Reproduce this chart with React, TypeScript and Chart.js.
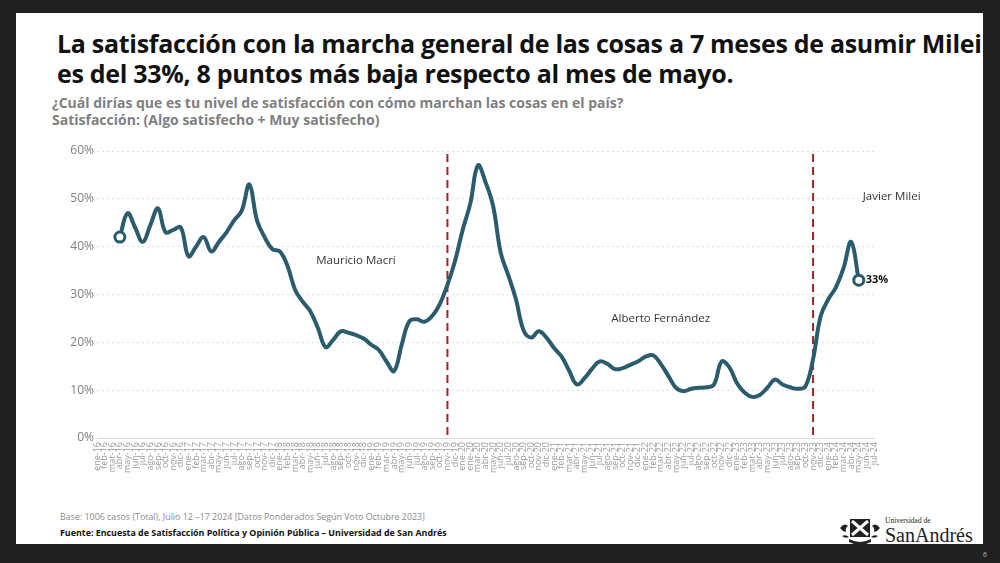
import { useEffect, useRef } from 'react';
import Chart from 'chart.js/auto';

// x axis categories, as printed under the chart (the source repeats "ene-20")
const months = [
  'ene-16', 'feb-16', 'mar-16', 'abr-16', 'may-16', 'jun-16', 'jul-16', 'ago-16', 'sep-16', 'oct-16', 'nov-16', 'dic-16',
  'ene-17', 'feb-17', 'mar-17', 'abr-17', 'may-17', 'jun-17', 'jul-17', 'ago-17', 'sep-17', 'oct-17', 'nov-17', 'dic-17',
  'ene-18', 'feb-18', 'mar-18', 'abr-18', 'may-18', 'jun-18', 'jul-18', 'ago-18', 'sep-18', 'oct-18', 'nov-18', 'dic-18',
  'ene-19', 'feb-19', 'mar-19', 'abr-19', 'may-19', 'jun-19', 'jul-19', 'ago-19', 'sep-19', 'oct-19', 'nov-19', 'dic-19',
  'ene-20', 'ene-20', 'mar-20', 'abr-20', 'may-20', 'jun-20', 'jul-20', 'ago-20', 'sep-20', 'oct-20', 'nov-20', 'dic-20',
  'ene-21', 'feb-21', 'mar-21', 'abr-21', 'may-21', 'jun-21', 'jul-21', 'ago-21', 'sep-21', 'oct-21', 'nov-21', 'dic-21',
  'ene-22', 'feb-22', 'mar-22', 'abr-22', 'may-22', 'jun-22', 'jul-22', 'ago-22', 'sep-22', 'oct-22', 'nov-22', 'dic-22',
  'ene-23', 'feb-23', 'mar-23', 'abr-23', 'may-23', 'jun-23', 'jul-23', 'ago-23', 'sep-23', 'oct-23', 'nov-23', 'dic-23',
  'ene-24', 'feb-24', 'mar-24', 'abr-24', 'may-24', 'jun-24', 'jul-24',
];

// Satisfacción (%), one value per category above
const satisfaction = [
  null, null, null, 42, 47, 44, 41, 44.5, 48, 43, 43.5, 44,
  38, 40, 42, 39, 41, 43, 45.5, 47.5, 53, 45.5, 42, 39.5,
  39, 36, 31, 28.5, 26.5, 23, 19, 20.5, 22.3, 22, 21.5, 20.8,
  19.5, 18.4, 16, 14, 19.5, 24.4, 24.8, 24.3, 25.5, 28, 32, 37,
  43.5, 49, 57, 53.5, 48.5, 38.7, 34, 29, 22.5, 21, 22.3, 21,
  18.8, 17, 14, 11.2, 12.5, 14.5, 16, 15.5, 14.4, 14.6, 15.3, 16,
  17, 17.3, 15.5, 13, 10.5, 9.8, 10.3, 10.5, 10.6, 11.2, 16, 14.8,
  11.5, 9.5, 8.6, 9, 10.5, 12.2, 11.2, 10.6, 10.3, 10.8, 16.5, 25.5,
  29, 31.5, 35.5, 41, 33, null, null,
];

const yTicks = [0, 10, 20, 30, 40, 50, 60];

// change of government (dashed lines) and the presidents' names
const dividers = ['nov-19', 'nov-23'];
const presidents = ['Mauricio Macri', 'Alberto Fernández', 'Javier Milei'];
const presidentAt = ['nov-18', 'mar-22', 'may-24'];
const presidentLevel = [37, 25, 50.5];

const LINE = '#2a5c6d';
const FONT = '"Open Sans", "Noto Sans", sans-serif';

const firstIdx = satisfaction.findIndex((v) => v !== null);
const lastIdx = satisfaction.length - 1 - [...satisfaction].reverse().findIndex((v) => v !== null);

const overlays = {
  id: 'overlays',
  beforeDatasetsDraw(chart: any) {
    const { ctx, chartArea, scales } = chart;
    ctx.save();
    ctx.strokeStyle = '#a3232a';
    ctx.lineWidth = 2;
    ctx.setLineDash([8, 5]);
    dividers.forEach((m) => {
      const x = scales.x.getPixelForValue(months.indexOf(m));
      ctx.beginPath();
      ctx.moveTo(x, chartArea.top + 3);
      ctx.lineTo(x, chartArea.bottom);
      ctx.stroke();
    });
    ctx.setLineDash([]);
    ctx.fillStyle = '#333';
    ctx.font = `11.5px ${FONT}`;
    ctx.textBaseline = 'middle';
    presidents.forEach((name, i) => {
      const x = scales.x.getPixelForValue(months.indexOf(presidentAt[i]));
      const y = scales.y.getPixelForValue(presidentLevel[i]);
      if (i === presidents.length - 1) {
        ctx.textAlign = 'left';
        ctx.fillText(name, x + 4, y);
      } else {
        ctx.textAlign = 'center';
        ctx.fillText(name, x, y);
      }
    });
    ctx.restore();
  },
  afterDatasetsDraw(chart: any) {
    const { ctx } = chart;
    const pt = chart.getDatasetMeta(0).data[lastIdx];
    if (!pt) return;
    ctx.save();
    ctx.fillStyle = '#111';
    ctx.font = `bold 11px ${FONT}`;
    ctx.textAlign = 'left';
    ctx.textBaseline = 'middle';
    ctx.fillText(`${satisfaction[lastIdx]}%`, pt.x + 7, pt.y);
    ctx.restore();
  },
};

const SatisfactionChart = () => {
  const chartRef = useRef<HTMLCanvasElement>(null);

  useEffect(() => {
    const ctx = chartRef.current?.getContext('2d');
    if (!ctx) return;

    const chartInstance = new Chart(ctx, {
      type: 'line',
      data: {
        labels: months,
        datasets: [
          {
            label: 'Satisfacción',
            data: satisfaction,
            borderColor: LINE,
            borderWidth: 4,
            tension: 0.4,
            fill: false,
            pointRadius: (c: any) => (c.dataIndex === firstIdx || c.dataIndex === lastIdx ? 5 : 0),
            pointBackgroundColor: '#ffffff',
            pointBorderColor: LINE,
            pointBorderWidth: 3,
            clip: false,
          },
        ],
      },
      options: {
        animation: false,
        responsive: true,
        maintainAspectRatio: false,
        layout: { padding: { top: 11, right: 66, left: 0, bottom: 0 } },
        plugins: { legend: { display: false }, tooltip: { enabled: false } },
        scales: {
          x: {
            type: 'category',
            offset: false,
            grid: { display: false, drawTicks: false },
            border: { display: true, color: '#d9d9d9' },
            ticks: {
              autoSkip: false,
              maxRotation: 90,
              minRotation: 90,
              padding: 4,
              color: '#9a9a9a',
              font: { family: FONT, size: 9 },
            },
            afterFit: (s: any) => {
              s.height = 42;
            },
          },
          y: {
            min: yTicks[0],
            max: yTicks[yTicks.length - 1],
            afterBuildTicks: (s: any) => {
              s.ticks = yTicks.map((v) => ({ value: v }));
            },
            ticks: {
              padding: 3,
              color: '#808080',
              font: { family: FONT, size: 12 },
              callback: (v: any) => `${v}%`,
            },
            grid: { color: '#e0e0e0', drawTicks: false },
            border: { display: false, dash: [2, 3] },
            afterFit: (s: any) => {
              s.width = 57;
            },
          },
        },
      },
      plugins: [overlays],
    });

    return () => chartInstance.destroy();
  }, []);

  return <canvas ref={chartRef} />;
};

const Crest = () => (
  <svg width="44" height="30" viewBox="0 0 44 30">
    <path d="M2 12 q4 -6 8 -2 q-3 2 -2 6 q-4 -1 -6 -4z M4 20 q4 -2 7 1 q-4 2 -7 -1z" fill="#222" />
    <path d="M42 12 q-4 -6 -8 -2 q3 2 2 6 q4 -1 6 -4z M40 20 q-4 -2 -7 1 q4 2 7 -1z" fill="#222" />
    <rect x="12" y="3" width="20" height="18" fill="#222" />
    <path d="M14 5 L30 19 M30 5 L14 19" stroke="#fff" strokeWidth="3" />
    <path d="M11 23 q11 6 22 0 l0 3 q-11 6 -22 0z" fill="#222" />
  </svg>
);

export default function App() {
  return (
    <div
      style={{
        position: 'fixed',
        left: 0,
        top: 0,
        width: 1000,
        height: 563,
        background: '#202020',
        fontFamily: FONT,
        overflow: 'hidden',
      }}
    >
      <div style={{ position: 'absolute', left: 16, top: 13, width: 967, height: 531, background: '#ffffff' }} />

      <div
        style={{
          position: 'absolute',
          left: 57,
          top: 28,
          fontSize: 25,
          lineHeight: '30px',
          fontWeight: 700,
          color: '#111',
          letterSpacing: -0.3,
          whiteSpace: 'nowrap',
        }}
      >
        <div>La satisfacción con la marcha general de las cosas a 7 meses de asumir Milei</div>
        <div>es del 33%, 8 puntos más baja respecto al mes de mayo.</div>
      </div>

      <div
        style={{
          position: 'absolute',
          left: 52,
          top: 94,
          fontSize: 14,
          lineHeight: '17px',
          fontWeight: 700,
          color: '#7f7f7f',
          whiteSpace: 'nowrap',
        }}
      >
        <div>¿Cuál dirías que es tu nivel de satisfacción con cómo marchan las cosas en el país?</div>
        <div>Satisfacción: (Algo satisfecho + Muy satisfecho)</div>
      </div>

      <div style={{ position: 'absolute', left: 40, top: 140, width: 900, height: 340 }}>
        <SatisfactionChart />
      </div>

      <div
        style={{
          position: 'absolute',
          left: 60,
          top: 509,
          fontSize: 8.9,
          lineHeight: '16px',
          whiteSpace: 'nowrap',
        }}
      >
        <div style={{ color: '#8a8a8a' }}>
          Base: 1006 casos (Total), Julio 12 –17 2024 [Datos Ponderados Según Voto Octubre 2023]
        </div>
        <div style={{ color: '#111', fontWeight: 700 }}>
          Fuente: Encuesta de Satisfacción Política y Opinión Pública – Universidad de San Andrés
        </div>
      </div>

      <div style={{ position: 'absolute', left: 838, top: 516 }}>
        <Crest />
      </div>
      <div
        style={{
          position: 'absolute',
          left: 885,
          top: 516,
          fontFamily: '"Liberation Serif", "DejaVu Serif", serif',
          color: '#222',
          whiteSpace: 'nowrap',
        }}
      >
        <div style={{ fontSize: 7.5, lineHeight: '9px' }}>Universidad de</div>
        <div style={{ fontSize: 20, lineHeight: '20px' }}>SanAndrés</div>
      </div>

      <div style={{ position: 'absolute', left: 983, top: 550, fontSize: 7, color: '#bbbbbb' }}>6</div>
    </div>
  );
}
